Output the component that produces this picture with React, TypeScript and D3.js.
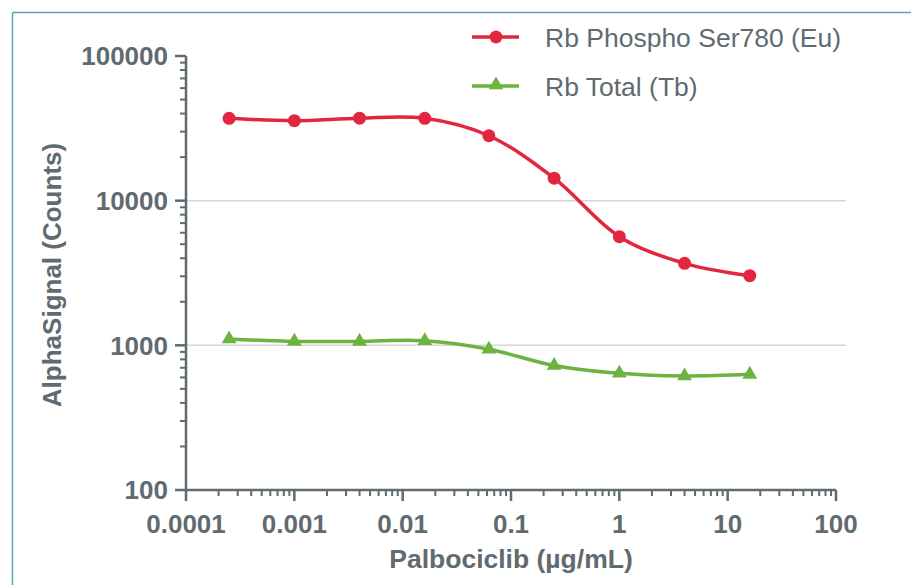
import { useEffect, useRef } from 'react';
import * as d3 from 'd3';

// concentrations (4-fold dilution series)
const concentrations = [0.00025, 0.001, 0.004, 0.016, 0.0625, 0.25, 1, 4, 16];
const phosphoValues = [37100, 35700, 37200, 37100, 28100, 14300, 5640, 3690, 3030];
const totalValues = [1107, 1065, 1065, 1075, 939, 726, 641, 614, 630];

const xTicks = [0.0001, 0.001, 0.01, 0.1, 1, 10, 100];
const xTickLabels = ['0.0001', '0.001', '0.01', '0.1', '1', '10', '100'];
const yTicks = [100, 1000, 10000, 100000];
const yTickLabels = ['100', '1000', '10000', '100000'];
const gridValues = [1000, 10000];

const seriesNames = ['Rb Phospho Ser780 (Eu)', 'Rb Total (Tb)'];
const seriesColors = ['#e3263f', '#6cb33f'];

const W = 911;
const H = 585;
const TEXT = '#5f6b70';
const FONT = '"Liberation Sans", Arial, sans-serif';

export default function App() {
  const svgRef = useRef<SVGSVGElement>(null);

  useEffect(() => {
    const svg = d3.select(svgRef.current);
    svg.selectAll('*').remove();

    const x = d3.scaleLog().domain([0.0001, 100]).range([186, 836]);
    const y = d3.scaleLog().domain([100, 100000]).range([490, 56]);

    // frame (top + left only)
    svg.append('line').attr('x1', 12.5).attr('x2', W).attr('y1', 12.5).attr('y2', 12.5)
      .attr('stroke', '#5aa6ad').attr('stroke-width', 1.5);
    svg.append('line').attr('x1', 12.5).attr('x2', 12.5).attr('y1', 12.5).attr('y2', H)
      .attr('stroke', '#5aa6ad').attr('stroke-width', 1.5);

    // grid lines
    svg.append('g').selectAll('line').data(gridValues).enter().append('line')
      .attr('x1', 186).attr('x2', 846)
      .attr('y1', d => y(d)).attr('y2', d => y(d))
      .attr('stroke', '#d6d6d6').attr('stroke-width', 1.5);

    // minor tick values
    const minorX: number[] = [];
    for (let e = -4; e < 2; e++) for (let m = 2; m <= 9; m++) minorX.push(m * Math.pow(10, e));
    const minorY: number[] = [];
    for (let e = 2; e < 5; e++) for (let m = 2; m <= 9; m++) minorY.push(m * Math.pow(10, e));

    const axisColor = '#5f6b70';

    // X axis
    const gx = svg.append('g').attr('transform', 'translate(0,490)');
    gx.append('line').attr('x1', 186).attr('x2', 836).attr('stroke', axisColor).attr('stroke-width', 2.5);
    gx.selectAll('.major').data(xTicks).enter().append('line')
      .attr('x1', d => x(d)).attr('x2', d => x(d)).attr('y1', 0).attr('y2', 11)
      .attr('stroke', axisColor).attr('stroke-width', 2.5);
    gx.selectAll('.minor').data(minorX).enter().append('line')
      .attr('x1', d => x(d)).attr('x2', d => x(d)).attr('y1', 0).attr('y2', 6)
      .attr('stroke', axisColor).attr('stroke-width', 2);
    gx.selectAll('text').data(xTicks).enter().append('text')
      .attr('x', d => x(d)).attr('y', 43)
      .attr('text-anchor', 'middle')
      .style('font-family', FONT).style('font-weight', 'bold').style('font-size', '26px')
      .style('fill', TEXT)
      .text((d, i) => xTickLabels[i]);

    // Y axis
    const gy = svg.append('g').attr('transform', 'translate(186,0)');
    gy.append('line').attr('y1', 56).attr('y2', 490).attr('stroke', axisColor).attr('stroke-width', 2.5);
    gy.selectAll('.major').data(yTicks).enter().append('line')
      .attr('y1', d => y(d)).attr('y2', d => y(d)).attr('x1', 0).attr('x2', -11)
      .attr('stroke', axisColor).attr('stroke-width', 2.5);
    gy.selectAll('.minor').data(minorY).enter().append('line')
      .attr('y1', d => y(d)).attr('y2', d => y(d)).attr('x1', 0).attr('x2', -6)
      .attr('stroke', axisColor).attr('stroke-width', 2);
    gy.selectAll('text').data(yTicks).enter().append('text')
      .attr('x', -18).attr('y', d => y(d)).attr('dy', '0.36em')
      .attr('text-anchor', 'end')
      .style('font-family', FONT).style('font-weight', 'bold').style('font-size', '26px')
      .style('fill', TEXT)
      .text((d, i) => yTickLabels[i]);

    // axis titles
    svg.append('text')
      .attr('x', 511).attr('y', 568)
      .attr('text-anchor', 'middle')
      .style('font-family', FONT).style('font-weight', 'bold').style('font-size', '26.5px')
      .style('fill', TEXT)
      .text('Palbociclib (µg/mL)');
    svg.append('text')
      .attr('transform', 'translate(61,275) rotate(-90)')
      .attr('text-anchor', 'middle')
      .style('font-family', FONT).style('font-weight', 'bold').style('font-size', '26px')
      .style('fill', TEXT)
      .text('AlphaSignal (Counts)');

    // curves
    const line = d3.line<[number, number]>()
      .x(d => x(d[0]))
      .y(d => y(d[1]))
      .curve(d3.curveCatmullRom.alpha(0.5));

    const allSeries = [phosphoValues, totalValues];
    allSeries.forEach((vals, si) => {
      const pts = concentrations.map((c, i) => [c, vals[i]] as [number, number]);
      svg.append('path')
        .datum(pts)
        .attr('fill', 'none')
        .attr('stroke', seriesColors[si])
        .attr('stroke-width', 3.5)
        .attr('d', line);
    });

    // markers
    svg.append('g').selectAll('circle').data(concentrations).enter().append('circle')
      .attr('cx', d => x(d))
      .attr('cy', (d, i) => y(phosphoValues[i]))
      .attr('r', 6.5)
      .attr('fill', seriesColors[0]);

    const tri = d3.symbol().type(d3.symbolTriangle).size(95);
    svg.append('g').selectAll('path').data(concentrations).enter().append('path')
      .attr('transform', (d, i) => `translate(${x(d)},${y(totalValues[i])})`)
      .attr('d', tri)
      .attr('fill', seriesColors[1]);

    // legend
    const legend = svg.append('g');
    seriesNames.forEach((name, i) => {
      const ly = 37 + i * 49;
      legend.append('line').attr('x1', 472).attr('x2', 519).attr('y1', ly).attr('y2', ly)
        .attr('stroke', seriesColors[i]).attr('stroke-width', 3.5);
      if (i === 0) {
        legend.append('circle').attr('cx', 496).attr('cy', ly).attr('r', 6.5).attr('fill', seriesColors[i]);
      } else {
        legend.append('path').attr('transform', `translate(496,${ly - 1})`).attr('d', tri).attr('fill', seriesColors[i]);
      }
      legend.append('text')
        .attr('x', 545).attr('y', ly).attr('dy', '0.36em')
        .style('font-family', FONT).style('font-size', '26.5px')
        .style('fill', TEXT)
        .text(name);
    });
  }, []);

  return (
    <div style={{ position: 'absolute', left: 0, top: 0, width: W, height: H, background: '#fff' }}>
      <svg ref={svgRef} width={W} height={H}></svg>
    </div>
  );
}
